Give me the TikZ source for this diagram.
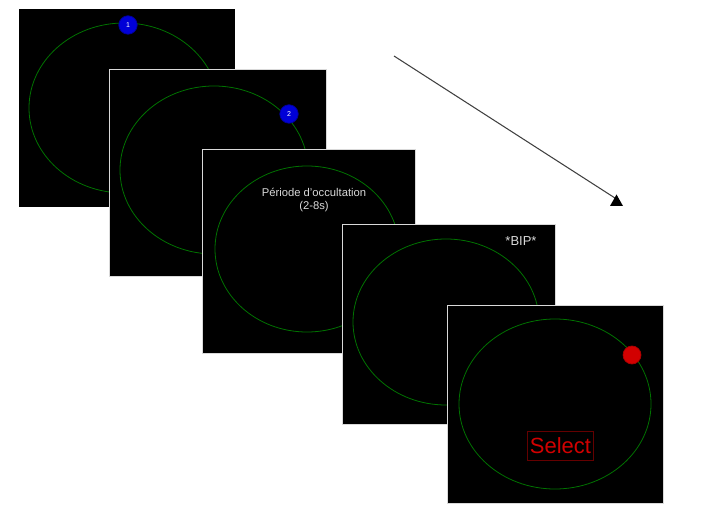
\documentclass[tikz,border=0pt]{standalone}
\usepackage{fontspec}
\setmainfont{Liberation Sans}
\usetikzlibrary{positioning}
\definecolor{orbitgreen}{RGB}{0,115,0}
\definecolor{ballblue}{RGB}{0,0,215}
\definecolor{ballred}{RGB}{210,0,0}
\definecolor{boxred}{RGB}{100,0,0}
\begin{document}
\begin{tikzpicture}
[x=0.02cm,y=-0.02cm,>=stealth,
screen/.style={fill=black,draw=black!15,line width=0.5pt},
orbit/.style={draw=orbitgreen,line width=0.45pt},
ball/.style={circle,draw=ballblue!70!black,fill=ballblue,inner sep=0pt,minimum size=0.37cm,text=white,font=\fontsize{4}{5}\selectfont},
caption/.style={text=white!85!black,font=\fontsize{6.4}{7.6}\selectfont,align=center,inner sep=0pt},]
\useasboundingbox (0,0) rectangle (716,523);

%Screen 1
\fill (19,9) rectangle (235,207);
\draw[orbit] (124,108) ellipse (95 and 85);
\node (b1) at (128,25)[ball] {1};

%Screen 2
\draw[screen] (109,69) rectangle (326,276);
\draw[orbit] (214,170) ellipse (94 and 84);
\node (b2) at (289,114)[ball] {2};

%Screen 3
\draw[screen] (202,149) rectangle (415,353);
\draw[orbit] (307,249) ellipse (92 and 83);
\node (occ) at (314,200)[caption] {Période d'occultation\\(2-8s)};

%Screen 4
\draw[screen] (342,224) rectangle (555,424);
\draw[orbit] (446,322) ellipse (93 and 83);
\node (bip) at (521,241)[caption,font=\fontsize{7.4}{8.8}\selectfont] {*BIP*};

%Screen 5
\draw[screen] (447,305) rectangle (663,503);
\draw[orbit] (555,404) ellipse (96 and 85);
\node (b5) at (632,355)[ball,draw=ballred!80!black,fill=ballred,minimum size=0.36cm] {};
\node (sel) at (560.5,445.5)[draw=boxred,line width=0.5pt,text=ballred,inner sep=1.2pt,
  minimum width=1.3cm,minimum height=0.58cm,font=\fontsize{12.5}{14}\selectfont] {Select};

%Time arrow
\coordinate (t0) at (394,56);
\coordinate (t1) at (616.5,199);
\draw[black!75,line width=0.6pt] (t0) -- (t1);
\fill (t1) ++(-6.5,7) -- ++(13,0) -- ++(-6.5,-11.5) -- cycle;
\end{tikzpicture}
\end{document}
